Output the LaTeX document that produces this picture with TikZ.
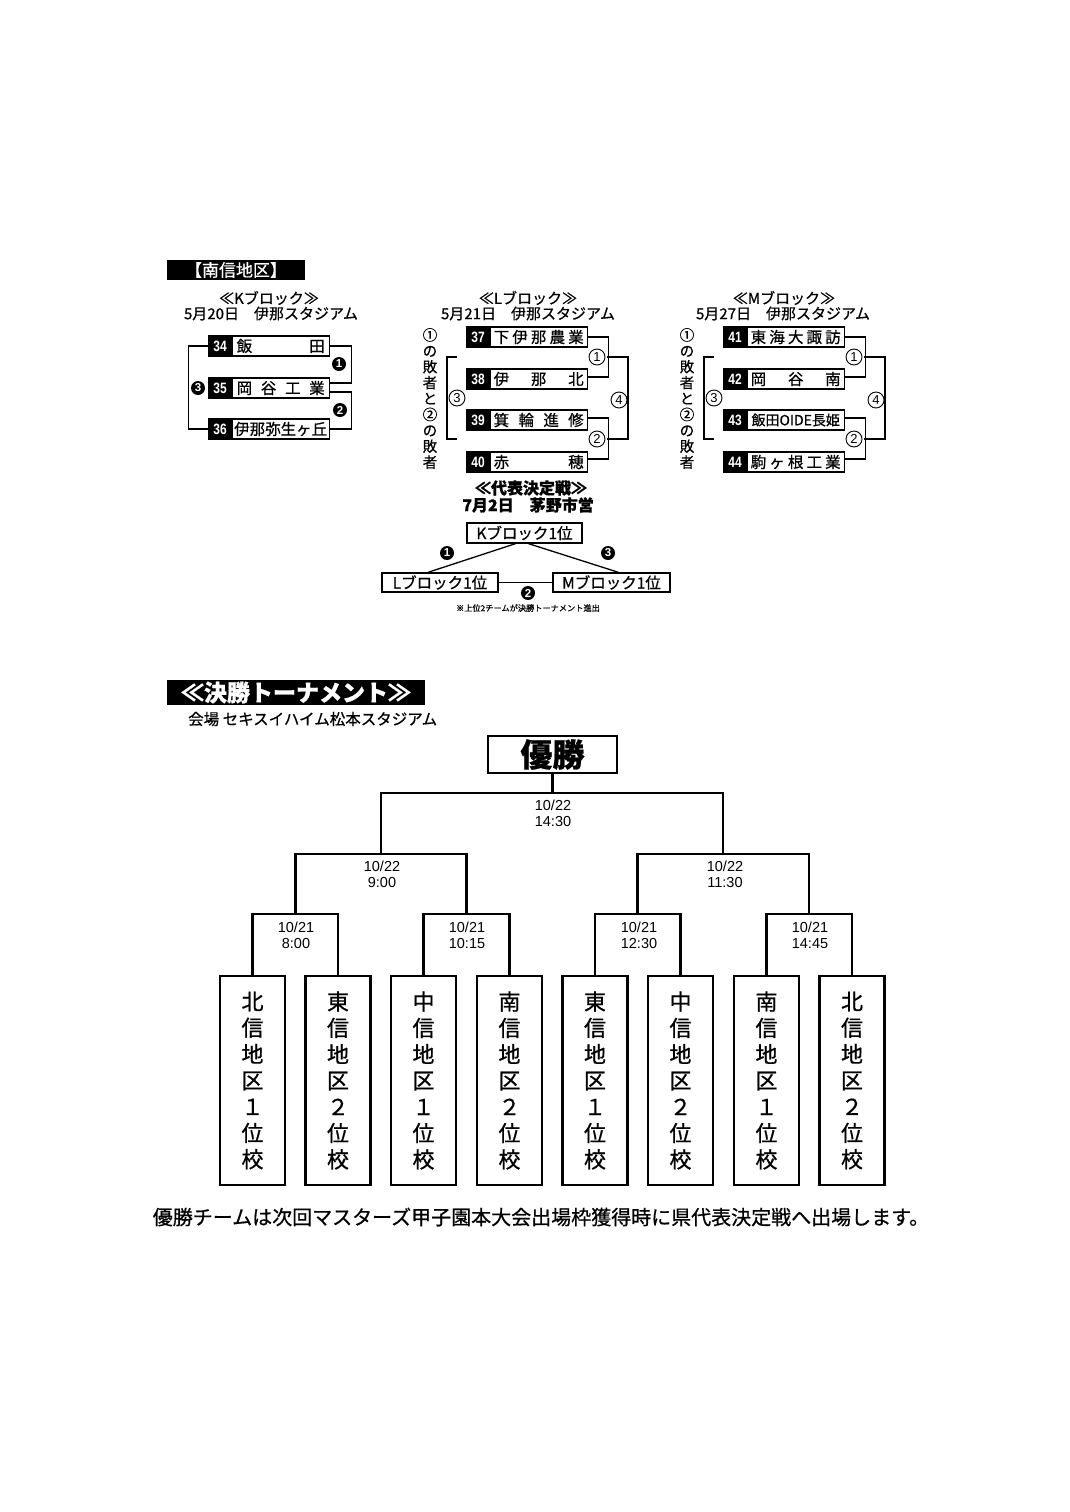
\documentclass[tikz,border=0pt]{standalone}
\usepackage{fontspec}
\setmainfont[FakeBold=0.7]{Noto Sans CJK JP}
\newfontfamily\arl{Liberation Sans}
\begin{document}
\begin{tikzpicture}[x=1pt,y=-1pt,
  num/.style={fill=black,draw=black,line width=1.2,text=white,minimum width=22,minimum height=20,inner sep=0,font=\arl\bfseries\fontsize{15}{15}\selectfont},
  team/.style={draw,line width=1.2,minimum width=97,minimum height=20,inner sep=0,anchor=west,font=\fontsize{15.5}{15.5}\selectfont},
  br/.style={line width=1.3},
  bc/.style={circle,fill=black,text=white,inner sep=0,minimum size=14,font=\arl\bfseries\fontsize{11.5}{11.5}\selectfont},
  wc/.style={circle,draw,line width=0.9,fill=white,inner sep=0,minimum size=16,font=\arl\fontsize{13}{13}\selectfont},
  ttl/.style={font=\fontsize{15}{15}\selectfont},
  dtl/.style={font=\fontsize{15}{15}\selectfont},
  vt/.style={align=center,inner sep=0,font=\fontsize{14.5}{15.9}\selectfont},
  hdr/.style={fill=black,text=white,inner sep=0},
  rb/.style={draw,line width=1.3,inner sep=0,minimum height=19,font=\fontsize{15.5}{15.5}\selectfont},
  tl/.style={line width=2.8},
  fb/.style={draw,line width=2.6,minimum width=65,minimum height=209,inner sep=0,align=center,font=\fontsize{22}{26.3}\selectfont},
  dt/.style={align=center,inner sep=0,font=\arl\fontsize{14.5}{16}\selectfont}
]
\fill[white] (0,0) rectangle (1070,1512);
\useasboundingbox (0,0) rectangle (1070,1512);

% ---------- header
\node[hdr,minimum width=138,minimum height=20,font=\fontsize{17}{17}\selectfont] (hd1) at (236,270) {【南信地区】};

% ---------- K block
\node[ttl] (kt1) at (269,298) {≪Kブロック≫};
\node[dtl] (kt2) at (271,313.5) {5月20日　伊那スタジアム};
\node[num] (n34) at (220,346) {\scalebox{0.8}[1]{34}};
\node[team] (t34) at (n34.east) {\makebox[88pt][s]{飯\hfill 田}};
\node[num] (n35) at (220,388) {\scalebox{0.8}[1]{35}};
\node[team] (t35) at (n35.east) {\makebox[88pt][s]{岡\hfill 谷\hfill 工\hfill 業}};
\node[num] (n36) at (220,429) {\scalebox{0.8}[1]{36}};
\node[team] (t36) at (n36.east) {伊那弥生ヶ丘};
\draw[br] (t34.east) -| ([xshift=22pt,yshift=5pt]t35.east) -- ([yshift=5pt]t35.east);
\draw[br] ([yshift=-4pt]t35.east) -| ([xshift=22pt]t36.east) -- (t36.east);
\draw[br] (n34.west) -| ([xshift=-20pt]n36.west) -- (n36.west);
\node[bc] (k1) at (339,364) {1};
\node[bc] (k2) at (340,410) {2};
\node[bc] (k3) at (198,388) {3};

% ---------- L block
\node[ttl] (lt1) at (528,298) {≪Lブロック≫};
\node[dtl] (lt2) at (528,313.5) {5月21日　伊那スタジアム};
\node[num] (n37) at (478,337) {\scalebox{0.8}[1]{37}};
\node[team] (t37) at (n37.east) {\makebox[90pt][s]{下\hfill 伊\hfill 那\hfill 農\hfill 業}};
\node[num] (n38) at (478,379) {\scalebox{0.8}[1]{38}};
\node[team] (t38) at (n38.east) {\makebox[90pt][s]{伊\hfill 那\hfill 北}};
\node[num] (n39) at (478,420) {\scalebox{0.8}[1]{39}};
\node[team] (t39) at (n39.east) {\makebox[90pt][s]{箕\hfill 輪\hfill 進\hfill 修}};
\node[num] (n40) at (478,462) {\scalebox{0.8}[1]{40}};
\node[team] (t40) at (n40.east) {\makebox[90pt][s]{赤\hfill 穂}};
\draw[br] (t37.east) -| ([xshift=21pt,yshift=2pt]t38.east) -- ([yshift=2pt]t38.east);
\draw[br] ([yshift=2pt]t39.east) -| ([xshift=21pt,yshift=3pt]t40.east) -- ([yshift=3pt]t40.east);
\coordinate (la) at (607,357);
\coordinate (lb) at (607,439);
\draw[br] (la) -| (628,400) |- (lb);
\coordinate (lc) at (457,357);
\coordinate (ld) at (457,439);
\draw[br] (lc) -| (447,400) |- (ld);
\node[wc] (l1) at (597,357) {1};
\node[wc] (l2) at (597,439) {2};
\node[wc] (l4) at (619,400) {4};
\node[wc] (l3) at (457,398) {3};
\node[vt] (lv) at (430,398.5) {①\\の\\敗\\者\\と\\②\\の\\敗\\者};

% ---------- M block
\node[ttl] (mt1) at (784,298) {≪Mブロック≫};
\node[dtl] (mt2) at (783,313.5) {5月27日　伊那スタジアム};
\node[num] (n41) at (735,337) {\scalebox{0.8}[1]{41}};
\node[team] (t41) at (n41.east) {\makebox[90pt][s]{東\hfill 海\hfill 大\hfill 諏\hfill 訪}};
\node[num] (n42) at (735,379) {\scalebox{0.8}[1]{42}};
\node[team] (t42) at (n42.east) {\makebox[90pt][s]{岡\hfill 谷\hfill 南}};
\node[num] (n43) at (735,420) {\scalebox{0.8}[1]{43}};
\node[team,font=\fontsize{14}{14}\selectfont] (t43) at (n43.east) {飯田OIDE長姫};
\node[num] (n44) at (735,462) {\scalebox{0.8}[1]{44}};
\node[team] (t44) at (n44.east) {\makebox[90pt][s]{駒\hfill ヶ\hfill 根\hfill 工\hfill 業}};
\draw[br] (t41.east) -| ([xshift=21pt,yshift=2pt]t42.east) -- ([yshift=2pt]t42.east);
\draw[br] ([yshift=2pt]t43.east) -| ([xshift=21pt,yshift=3pt]t44.east) -- ([yshift=3pt]t44.east);
\coordinate (ma) at (864,357);
\coordinate (mb) at (864,439);
\draw[br] (ma) -| (885,400) |- (mb);
\coordinate (mc) at (714,357);
\coordinate (md) at (714,439);
\draw[br] (mc) -| (704,400) |- (md);
\node[wc] (m1) at (854,357) {1};
\node[wc] (m2) at (854,439) {2};
\node[wc] (m4) at (876,400) {4};
\node[wc] (m3) at (714,398) {3};
\node[vt] (mv) at (687,398.5) {①\\の\\敗\\者\\と\\②\\の\\敗\\者};

% ---------- representative decision
\node[font=\bfseries\fontsize{16}{16}\selectfont] (rt1) at (531,488) {≪代表決定戦≫};
\node[font=\bfseries\fontsize{16}{16}\selectfont] (rt2) at (528,505) {7月2日　茅野市営};
\node[rb,minimum width=115,minimum height=20] (kb) at (524.5,533) {Kブロック1位};
\node[rb,minimum width=116] (lbx) at (440,582.5) {Lブロック1位};
\node[rb,minimum width=117] (mbx) at (611.5,582.5) {Mブロック1位};
\draw[br] ([xshift=-9pt]kb.south) -- ([xshift=-12pt]lbx.north);
\draw[br] ([xshift=4pt]kb.south) -- ([xshift=7pt]mbx.north);
\draw[br] (lbx.east) -- (mbx.west);
\node[bc] (r1) at (447,553) {1};
\node[bc] (r3) at (608,553) {3};
\node[bc] (r2) at (528,593) {2};
\node[font=\fontsize{8.2}{8.2}\selectfont] (rnote) at (528,608) {※上位2チームが決勝トーナメント進出};

% ---------- final tournament
\node[hdr,minimum width=258,minimum height=25,font=\bfseries\fontsize{23}{23}\selectfont] (hd2) at (296,692.5) {≪決勝トーナメント≫};
\node[anchor=west,inner sep=0,font=\fontsize{15.5}{15.5}\selectfont] (venue) at (188,719) {会場 セキスイハイム松本スタジアム};
\node[draw,line width=2.6,minimum width=129,minimum height=37,inner sep=0,font=\bfseries\fontsize{32}{32}\selectfont] (win) at (552.5,754.5) {優勝};

\node[fb] (f1) at (252.5,1080.5) {北\\信\\地\\区\\１\\位\\校};
\node[fb] (f2) at (338,1080.5) {東\\信\\地\\区\\２\\位\\校};
\node[fb] (f3) at (423.5,1080.5) {中\\信\\地\\区\\１\\位\\校};
\node[fb] (f4) at (509.5,1080.5) {南\\信\\地\\区\\２\\位\\校};
\node[fb] (f5) at (595,1080.5) {東\\信\\地\\区\\１\\位\\校};
\node[fb] (f6) at (680.5,1080.5) {中\\信\\地\\区\\２\\位\\校};
\node[fb] (f7) at (766.5,1080.5) {南\\信\\地\\区\\１\\位\\校};
\node[fb] (f8) at (852,1080.5) {北\\信\\地\\区\\２\\位\\校};

\coordinate (j1) at (295.5,914);
\coordinate (j2) at (466.5,914);
\coordinate (j3) at (637.5,914);
\coordinate (j4) at (809,914);
\coordinate (k1c) at (381,854);
\coordinate (k2c) at (723,854);
\coordinate (t0) at (552.5,793);

\draw[tl] (f1.north) |- (j1) -| (f2.north);
\draw[tl] (f3.north) |- (j2) -| (f4.north);
\draw[tl] (f5.north) |- (j3) -| (f6.north);
\draw[tl] (f7.north) |- (j4) -| (f8.north);
\draw[tl] (j1) |- (k1c) -| (j2);
\draw[tl] (j3) |- (k2c) -| (j4);
\draw[tl] (k1c) |- (t0) -| (k2c);
\draw[tl] (t0) -- (win.south);

\node[dt] (d0) at (553,813) {10/22\\14:30};
\node[dt] (d1) at (382,874) {10/22\\9:00};
\node[dt] (d2) at (725,874) {10/22\\11:30};
\node[dt] (d3) at (296,935) {10/21\\8:00};
\node[dt] (d4) at (467,935) {10/21\\10:15};
\node[dt] (d5) at (639,935) {10/21\\12:30};
\node[dt] (d6) at (810,935) {10/21\\14:45};

\node[font=\fontsize{20}{20}\selectfont] (foot) at (541,1217) {優勝チームは次回マスターズ甲子園本大会出場枠獲得時に県代表決定戦へ出場します。};
\end{tikzpicture}
\end{document}
